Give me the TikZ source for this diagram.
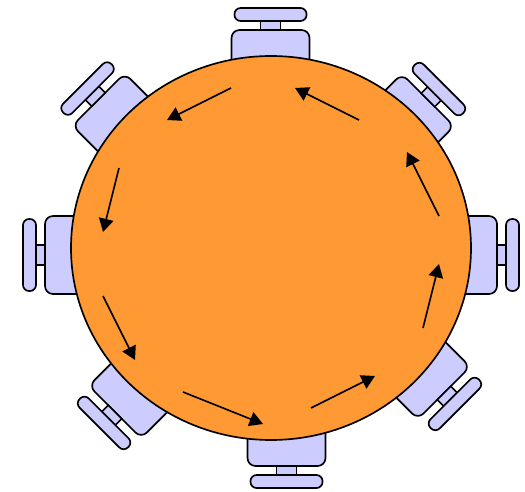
\documentclass[tikz,border=0pt]{standalone}
\usepackage{xcolor}
\usetikzlibrary{arrows.meta}
\definecolor{seatcol}{RGB}{204,204,255}
\definecolor{tablecol}{RGB}{255,153,51}
\tikzset{
  seat/.style={draw=black, fill=seatcol, line width=1.25pt},
  flow/.style={draw=black, line width=1.25pt, -{Triangle[length=10pt,width=11pt]}},
  pics/chair/.style={code={
    \draw[seat, rounded corners=6pt] (-39,40) -- (-39,0) -- (39,0) -- (39,40);
    \draw[seat] (-10,0) rectangle (10,-9);
    \draw[seat, rounded corners=4.5pt] (-36,-9) rectangle (36,-22);
  }}
}
\begin{document}
\begin{tikzpicture}[x=0.75pt, y=-0.75pt]
  \useasboundingbox (0,0) rectangle (525,492);

  % stoli
  \foreach \cx/\cy/\ang/\sc in {270.5/30/0/1, 428/100/-45/0.95, 497/255/-90/1, 444/393/-135/0.95,
      286.5/466/180/1, 115/412/135/0.95, 45/255/90/1, 98.5/99.5/45/0.95} {
    \pic[shift={(\cx,\cy)}, rotate=\ang, xscale=\sc] {chair};
  }

  % miza
  \draw[fill=tablecol, line width=1.25pt] (271,248) ellipse [x radius=200, y radius=192];

  % puscice
  \foreach \n/\xa/\ya/\xb/\yb in {1/231/88/167/120, 2/359/120/295/88, 3/439/216/407/152,
      4/423/328/439/264, 5/311/408/375/376, 6/183/392/263/424, 7/103/296/135/360, 8/119/168/103/232} {
    \coordinate (from\n) at (\xa,\ya);
    \coordinate (to\n) at (\xb,\yb);
    \draw[flow] (from\n) -- (to\n);
  }
\end{tikzpicture}
\end{document}
